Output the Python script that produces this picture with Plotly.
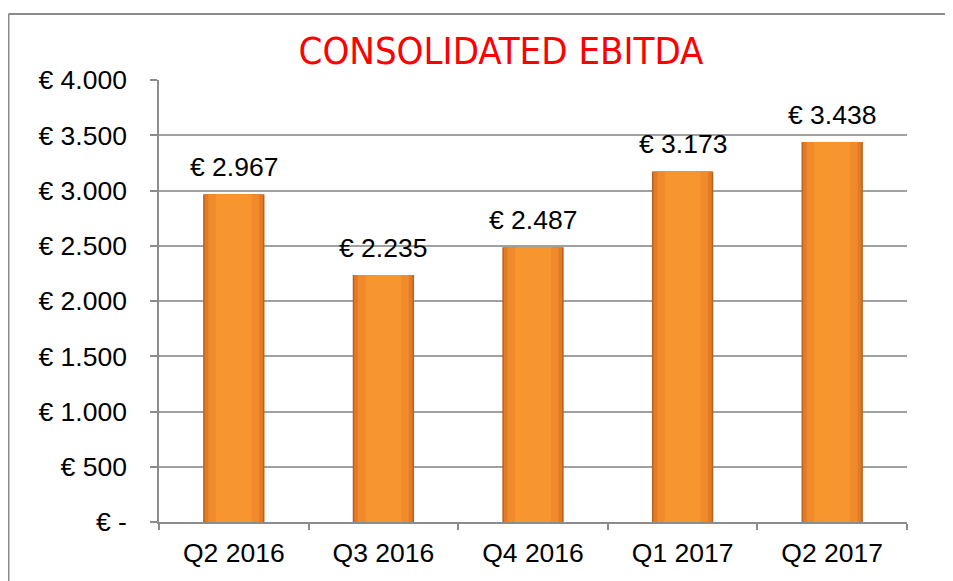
import plotly.graph_objects as go

categories = ["Q2 2016", "Q3 2016", "Q4 2016", "Q1 2017", "Q2 2017"]
ebitda = [2967, 2235, 2487, 3173, 3438]
value_labels = ["€ 2.967", "€ 2.235", "€ 2.487", "€ 3.173", "€ 3.438"]
y_tickvals = [0, 500, 1000, 1500, 2000, 2500, 3000, 3500, 4000]
y_ticktext = ["€ -", "€ 500", "€ 1.000", "€ 1.500", "€ 2.000", "€ 2.500",
              "€ 3.000", "€ 3.500", "€ 4.000"]
title_text = "CONSOLIDATED EBITDA"

# page has an 8px body margin; figure coordinates = page - 8
W, H = 945, 573
L, R, T, B = 151, 46, 72, 59
pw, ph = W - L - R, H - T - B

fig = go.Figure()
layers = [(0.41, "#B8621F"), (0.39, "#E27B27"), (0.34, "#F08A2B"), (0.24, "#F7962F")]
for w, c in layers:
    fig.add_trace(go.Bar(x=categories, y=ebitda, width=w, marker=dict(color=c, line=dict(width=0)),
                         hoverinfo="skip", showlegend=False))

for cat, val, lab in zip(categories, ebitda, value_labels):
    fig.add_annotation(x=cat, y=val, text=lab, showarrow=False, yanchor="middle", yshift=27,
                       font=dict(family="Liberation Sans, Arial", size=26.5, color="#000000"))

fig.update_layout(
    barmode="overlay",
    width=W, height=H,
    margin=dict(l=L, r=R, t=T, b=B),
    paper_bgcolor="white", plot_bgcolor="white",
    title=dict(text=title_text, x=493 / W, xref="container", y=1 - 43 / H, yref="container",
               xanchor="center", yanchor="middle",
               font=dict(family="DejaVu Sans Condensed, Liberation Sans Narrow, DejaVu Sans",
                         size=38, color="#FF0000")),
    font=dict(family="Liberation Sans, Arial", size=26.5, color="#000000"),
    showlegend=False,
)
fig.update_yaxes(range=[0, 4000], tickvals=y_tickvals, ticktext=y_ticktext,
                 showgrid=True, gridcolor="#A0A0A0", gridwidth=1.5,
                 showline=True, linecolor="#8C8C8C", linewidth=1.5,
                 ticks="outside", ticklen=7, tickcolor="#8C8C8C", tickwidth=1.5,
                 ticklabelstandoff=18, zeroline=False)
fig.update_xaxes(showline=True, linecolor="#8C8C8C", linewidth=1.5,
                 ticks="outside", tickson="boundaries", ticklen=6, tickcolor="#8C8C8C", tickwidth=1.5,
                 ticklabelstandoff=6, showgrid=False)

# outer chart border: only the left and top edges fall inside the page
bx0 = (0.5 - L) / pw
bx1 = (W + 20 - L) / pw
by0 = -(B + 20) / ph
by1 = (ph + T - 6) / ph
fig.add_shape(type="line", xref="paper", yref="paper", x0=bx0, x1=bx0, y0=by0, y1=by1,
              line=dict(color="#8C8C8C", width=2), layer="below")
fig.add_shape(type="line", xref="paper", yref="paper", x0=bx0, x1=bx1, y0=by1, y1=by1,
              line=dict(color="#8C8C8C", width=2), layer="below")

fig.write_html("out.html",
               post_script="document.documentElement.style.overflow='hidden';"
                           "document.body.style.overflow='hidden';")
